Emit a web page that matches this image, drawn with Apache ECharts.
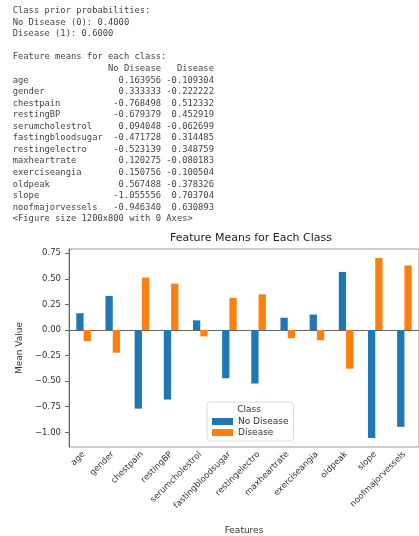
<!DOCTYPE html>
<html>
<head>
<meta charset="utf-8">
<script src="https://cdn.jsdelivr.net/npm/echarts@6/dist/echarts.min.js"></script>
<style>
    html, body { margin: 0; padding: 0; background: #fff; }
    #main { width: 419px; height: 536px; }
</style>
</head>
<body>
<div id="main"></div>
<script>
// 数据
var features = ['age', 'gender', 'chestpain', 'restingBP', 'serumcholestrol', 'fastingbloodsugar',
    'restingelectro', 'maxheartrate', 'exerciseangia', 'oldpeak', 'slope', 'noofmajorvessels'];
var noDisease = [0.163956, 0.333333, -0.768498, -0.679379, 0.094048, -0.471728,
    -0.523139, 0.120275, 0.150756, 0.567488, -1.055556, -0.946340];
var disease = [-0.109304, -0.222222, 0.512332, 0.452919, -0.062699, 0.314485,
    0.348759, -0.080183, -0.100504, -0.378326, 0.703704, 0.630893];
var priorNoDisease = 0.4;
var priorDisease = 0.6;
var yTicks = [-1.0, -0.75, -0.5, -0.25, 0, 0.25, 0.5, 0.75];

// y轴范围 (和matplotlib一样留5%边距)
var dataMin = Math.min.apply(null, noDisease.concat(disease, [0]));
var dataMax = Math.max.apply(null, noDisease.concat(disease, [0]));
var pad = (dataMax - dataMin) * 0.05;

// 上面的打印输出
var lines = [
    'Class prior probabilities:',
    'No Disease (0): ' + priorNoDisease.toFixed(4),
    'Disease (1): ' + priorDisease.toFixed(4),
    '',
    'Feature means for each class:',
    ' '.repeat(18) + 'No Disease' + '   Disease'
];
for (var i = 0; i < features.length; i++) {
    lines.push(features[i].padEnd(17) + ' ' + noDisease[i].toFixed(6).padStart(10) + ' ' + disease[i].toFixed(6).padStart(9));
}
lines.push('<Figure size 1200x800 with 0 Axes>');

var myChart = echarts.init(document.getElementById('main'));
var option = {
    animation: false,
    textStyle: {fontFamily: 'DejaVu Sans'},
    title: {
        text: 'Feature Means for Each Class',
        left: 251,
        top: 233,
        textAlign: 'center',
        padding: 0,
        textStyle: {fontSize: 11, fontWeight: 'normal', color: '#222', fontFamily: 'DejaVu Sans'}
    },
    legend: {
        data: ['No Disease', 'Disease'],
        orient: 'vertical',
        left: 207,
        top: 402,
        padding: [15, 5, 4, 5],
        itemWidth: 21,
        itemHeight: 7,
        itemGap: 2,
        icon: 'rect',
        backgroundColor: 'rgba(255,255,255,0.85)',
        borderColor: '#ddd',
        borderWidth: 1,
        borderRadius: 3,
        textStyle: {fontSize: 9, color: '#333', padding: [0, 0, 0, 0]}
    },
    graphic: [
        {
            type: 'text',
            z: 100,
            style: {
                text: 'Class',
                x: 249,
                y: 410,
                align: 'center',
                verticalAlign: 'middle',
                font: '9px "DejaVu Sans"',
                fill: '#333'
            }
        },
        {
            type: 'text',
            style: {
                text: lines.join('\n'),
                x: 12.7,
                y: 5.2,
                font: '8.8px "DejaVu Sans Mono"',
                lineHeight: 11.55,
                fill: '#444'
            }
        }
    ],
    grid: {
        left: 69,
        right: -14,
        top: 249,
        bottom: 85,
        show: true,
        borderColor: '#999',
        borderWidth: 1
    },
    xAxis: [
        {
            type: 'category',
            data: features,
            boundaryGap: true,
            name: 'Features',
            nameLocation: 'middle',
            nameGap: 79,
            nameTextStyle: {fontSize: 9, color: '#333'},
            axisLine: {lineStyle: {color: '#666'}},
            axisTick: {alignWithLabel: true, length: 4, lineStyle: {color: '#666'}},
            axisLabel: {interval: 0, rotate: 45, fontSize: 8.5, color: '#333', margin: 6},
            splitLine: {show: false}
        }
    ],
    yAxis: [
        {
            type: 'value',
            min: dataMin - pad,
            max: dataMax + pad,
            name: 'Mean Value',
            nameLocation: 'middle',
            nameGap: 45,
            nameTextStyle: {fontSize: 9, color: '#333'},
            axisLine: {show: true, lineStyle: {color: '#666'}},
            axisTick: {show: true, length: 4, customValues: yTicks, lineStyle: {color: '#666'}},
            axisLabel: {
                customValues: yTicks,
                fontSize: 8.5,
                color: '#333',
                margin: 8,
                formatter: function (v) {
                    return (v < 0 ? '\u2212' : '') + Math.abs(v).toFixed(2);
                }
            },
            splitLine: {show: false}
        }
    ],
    series: [
        {
            name: 'No Disease',
            type: 'bar',
            barWidth: '25%',
            barGap: '0%',
            itemStyle: {color: '#1f77b4'},
            data: noDisease
        },
        {
            name: 'Disease',
            type: 'bar',
            barWidth: '25%',
            barGap: '0%',
            itemStyle: {color: '#ff7f0e'},
            data: disease
        }
    ]
};
myChart.setOption(option);
</script>
</body>
</html>
